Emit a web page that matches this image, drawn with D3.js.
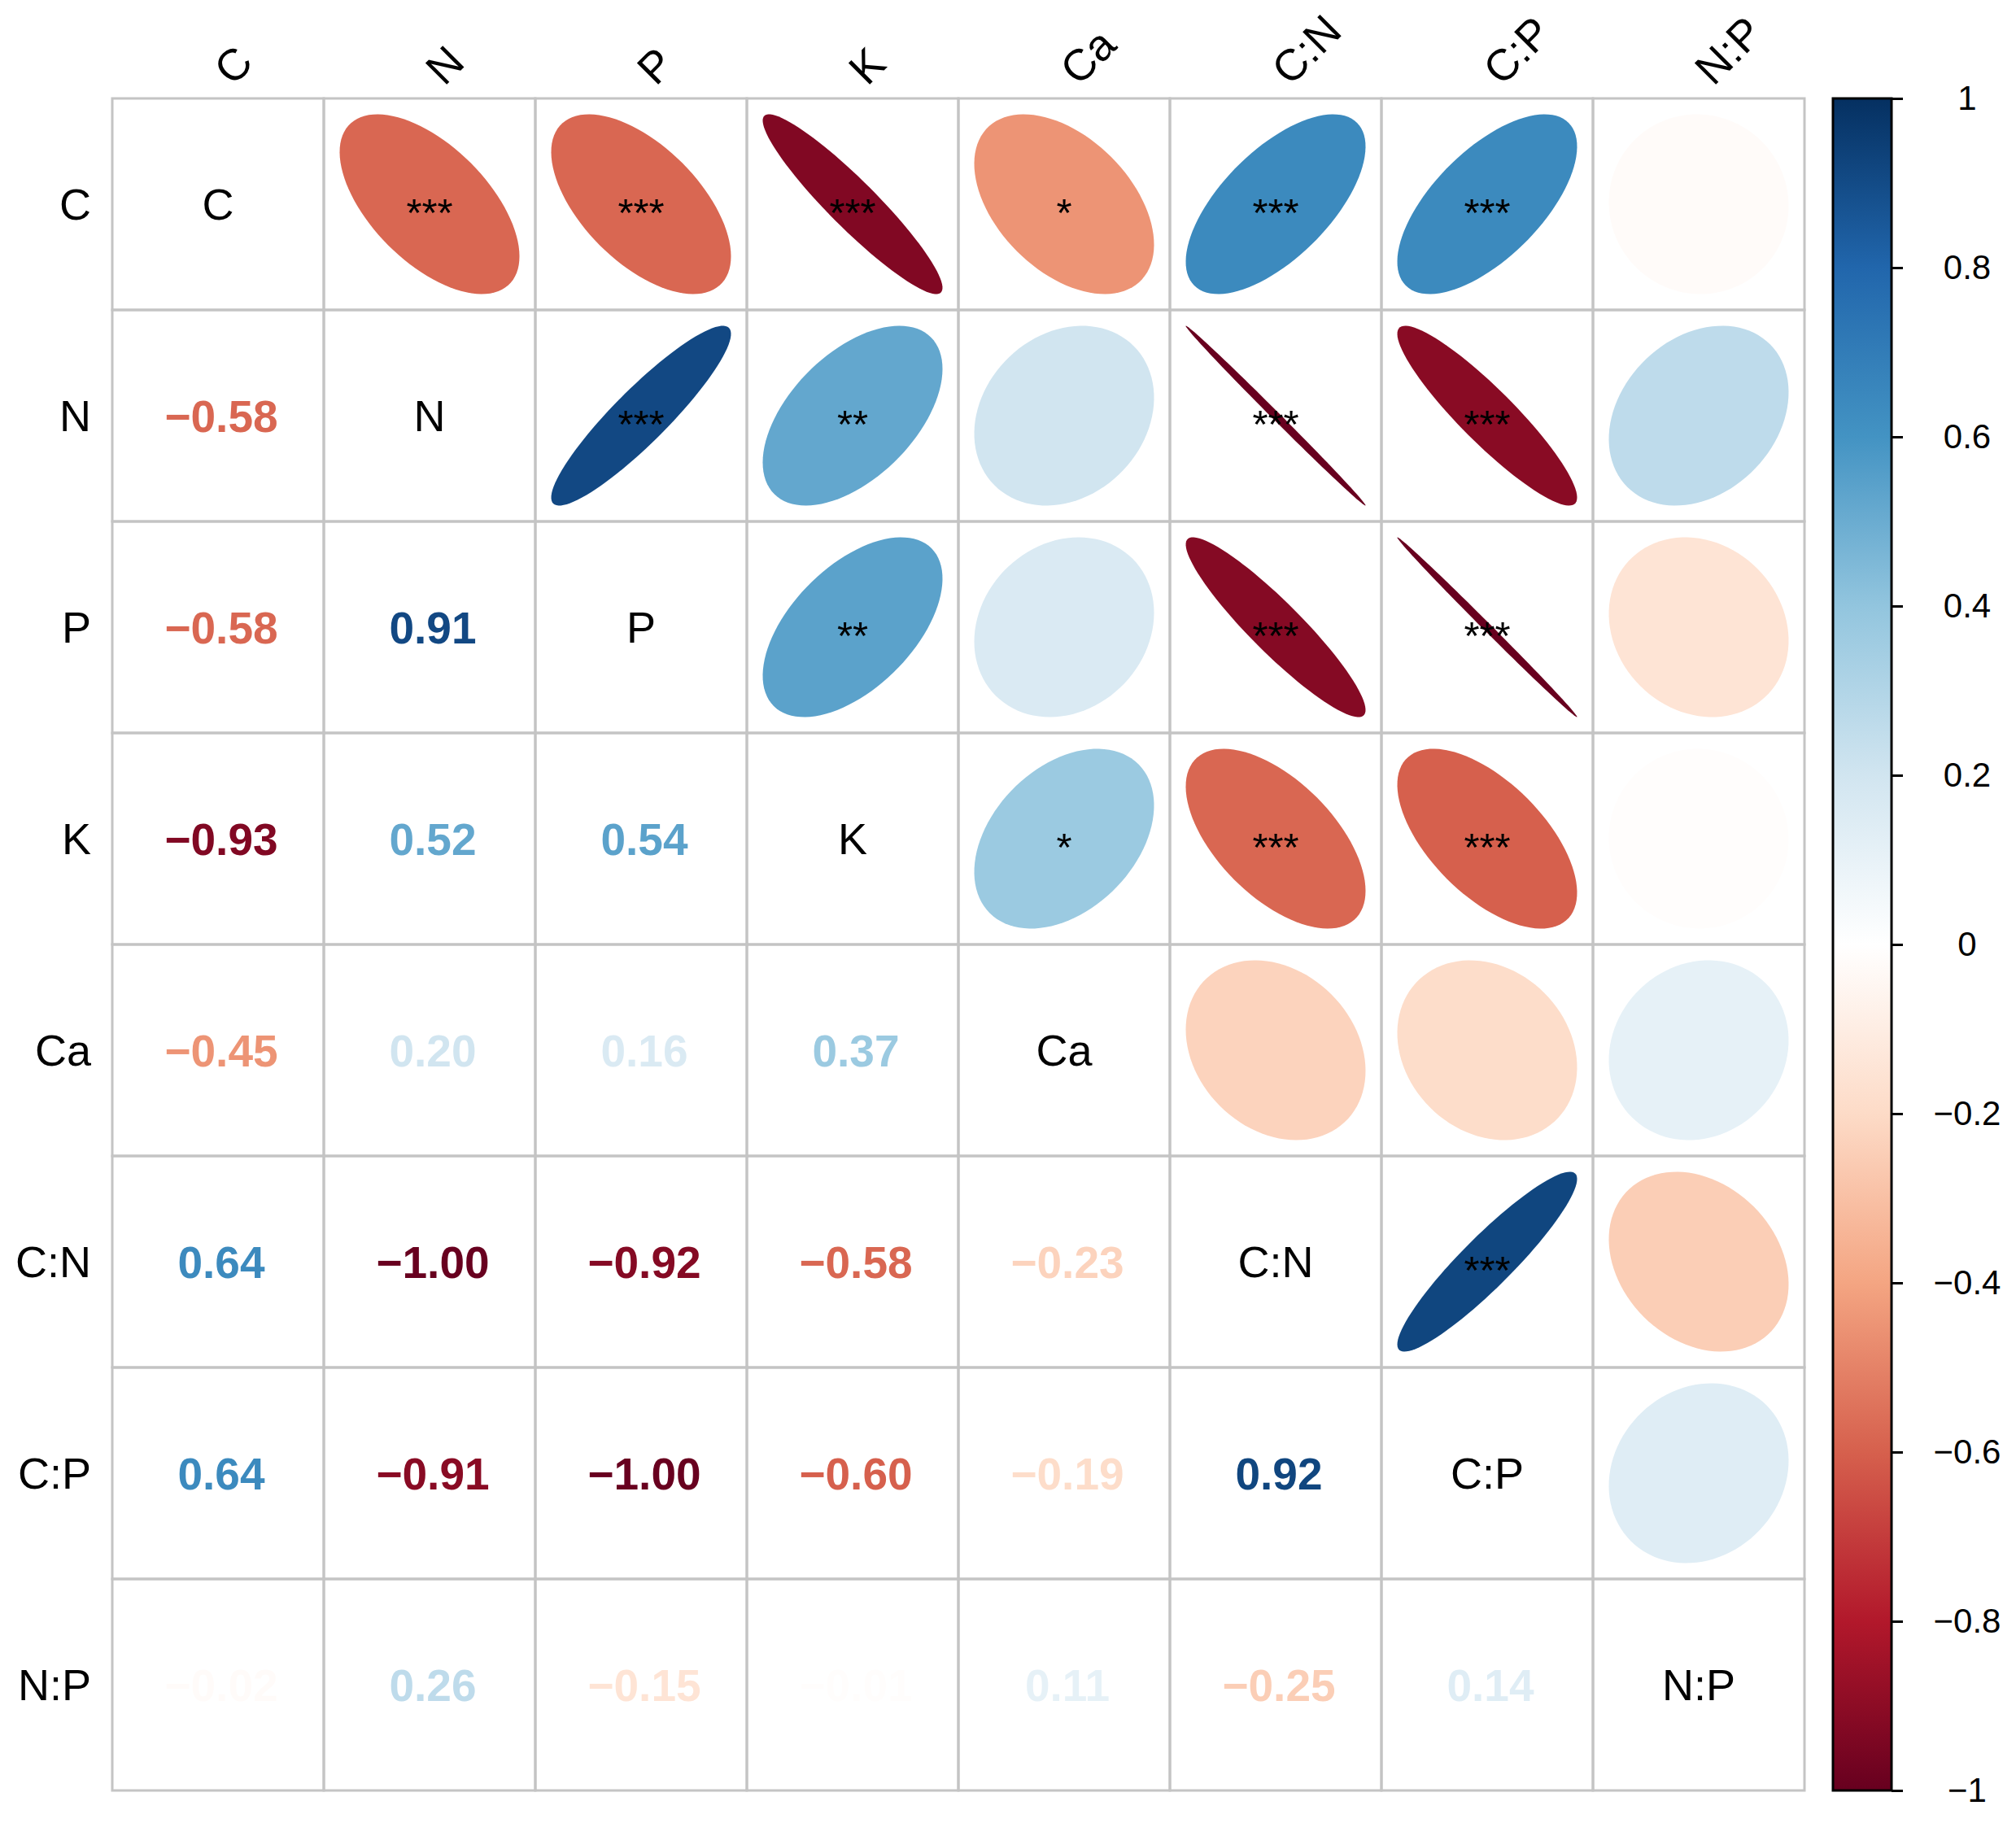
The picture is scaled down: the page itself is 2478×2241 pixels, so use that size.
<!DOCTYPE html>
<html>
<head>
<meta charset="utf-8">
<script src="https://cdn.jsdelivr.net/npm/d3@7"></script>
<style>
  body { margin: 0; background: #fff; }
  text { font-family: "Liberation Sans", Arial, Helvetica, sans-serif; }
</style>
</head>
<body>
<svg id="chart"></svg>
<script>
var width = 2478;
var height = 2241;

var vars = ["C", "N", "P", "K", "Ca", "C:N", "C:P", "N:P"];

// lower triangle of the correlation matrix, row i against columns 0..i-1
var lowerRows = [
  [],
  [-0.58],
  [-0.58, 0.91],
  [-0.93, 0.52, 0.54],
  [-0.45, 0.20, 0.16, 0.37],
  [0.64, -0.998, -0.92, -0.58, -0.23],
  [0.64, -0.91, -0.998, -0.60, -0.19, 0.92],
  [-0.02, 0.26, -0.15, -0.01, 0.11, -0.25, 0.14]
];

// significance marks, same layout as lowerRows
var starRows = [
  [],
  ["***"],
  ["***", "***"],
  ["***", "**", "**"],
  ["*", "", "", "*"],
  ["***", "***", "***", "***", ""],
  ["***", "***", "***", "***", "", "***"],
  ["", "", "", "", "", "", ""]
];

var paletteStops = ["#67001F", "#B2182B", "#D6604D", "#F4A582", "#FDDBC7", "#FFFFFF",
                    "#D1E5F0", "#92C5DE", "#4393C3", "#2166AC", "#053061"];
var legendTicks = [-1, -0.8, -0.6, -0.4, -0.2, 0, 0.2, 0.4, 0.6, 0.8, 1];
var legendLabels = ["\u22121", "\u22120.8", "\u22120.6", "\u22120.4", "\u22120.2", "0",
                    "0.2", "0.4", "0.6", "0.8", "1"];

var gridLeft = 138, gridTop = 121, cell = 260;
var n = vars.length;

var svg = d3.select("#chart")
  .attr("width", width)
  .attr("height", height);

var x = d3.scaleBand().domain(vars).range([gridLeft, gridLeft + n * cell]);
var y = d3.scaleBand().domain(vars).range([gridTop, gridTop + n * cell]);

var color = d3.scaleLinear()
  .domain(d3.range(paletteStops.length).map(function(i) { return -1 + i * 2 / (paletteStops.length - 1); }))
  .range(paletteStops)
  .interpolate(d3.interpolateRgb);

function fmt(v) {
  return v.toFixed(2).replace("-", "\u2212");
}

// flatten into cells
var pairs = [];
lowerRows.forEach(function(row, i) {
  row.forEach(function(v, j) {
    pairs.push({ row: vars[i], col: vars[j], value: v, stars: starRows[i][j] });
  });
});

// grid
var grid = svg.append("g");
vars.forEach(function(r) {
  vars.forEach(function(c) {
    grid.append("rect")
      .attr("x", x(c))
      .attr("y", y(r))
      .attr("width", x.bandwidth())
      .attr("height", y.bandwidth())
      .attr("fill", "none")
      .attr("stroke", "#c4c4c4")
      .attr("stroke-width", 3);
  });
});

// upper triangle: ellipses
var ellPts = d3.range(99).map(function(k) { return k * 2 * Math.PI / 98; });
function ellipsePath(d) {
  var cx = x(d.row) + x.bandwidth() / 2;
  var cy = y(d.col) + y.bandwidth() / 2;
  var a = Math.acos(d.value);
  var s = 0.85 * cell / 2;
  return d3.line()(ellPts.map(function(t) {
    return [cx + s * Math.cos(t + a / 2), cy - s * Math.cos(t - a / 2)];
  })) + "Z";
}

svg.append("g").selectAll("path")
  .data(pairs)
  .enter()
  .append("path")
  .attr("d", ellipsePath)
  .attr("fill", function(d) { return color(d.value); });

svg.append("g").selectAll("text")
  .data(pairs.filter(function(d) { return d.stars; }))
  .enter()
  .append("text")
  .attr("x", function(d) { return x(d.row) + x.bandwidth() / 2; })
  .attr("y", function(d) { return y(d.col) + y.bandwidth() / 2 + 27; })
  .attr("text-anchor", "middle")
  .attr("font-size", "49px")
  .attr("fill", "#000")
  .text(function(d) { return d.stars; });

// lower triangle: numbers
svg.append("g").selectAll("text")
  .data(pairs)
  .enter()
  .append("text")
  .attr("x", function(d) { return x(d.col) + x.bandwidth() / 2 + 4; })
  .attr("y", function(d) { return y(d.row) + y.bandwidth() / 2 + 20; })
  .attr("text-anchor", "middle")
  .attr("font-size", "55px")
  .attr("font-weight", "bold")
  .attr("fill", function(d) { return color(d.value); })
  .text(function(d) { return fmt(d.value); });

// diagonal labels
svg.append("g").selectAll("text")
  .data(vars)
  .enter()
  .append("text")
  .attr("x", function(d) { return x(d) + x.bandwidth() / 2; })
  .attr("y", function(d) { return y(d) + y.bandwidth() / 2 + 19; })
  .attr("text-anchor", "middle")
  .attr("font-size", "54px")
  .attr("fill", "#000")
  .text(function(d) { return d; });

// row labels
svg.append("g").selectAll("text")
  .data(vars)
  .enter()
  .append("text")
  .attr("x", gridLeft - 26)
  .attr("y", function(d) { return y(d) + y.bandwidth() / 2 + 19; })
  .attr("text-anchor", "end")
  .attr("font-size", "54px")
  .attr("fill", "#000")
  .text(function(d) { return d; });

// column labels, rotated
svg.append("g").selectAll("text")
  .data(vars)
  .enter()
  .append("text")
  .attr("transform", function(d) {
    return "translate(" + (x(d) + x.bandwidth() / 2 + 18) + "," + (gridTop - 14) + ") rotate(-45)";
  })
  .attr("text-anchor", "start")
  .attr("font-size", "54px")
  .attr("fill", "#000")
  .text(function(d) { return d; });

// colour legend
var barLeft = 2253, barWidth = 72;
var ly = d3.scaleLinear().domain([-1, 1]).range([gridTop + n * cell, gridTop]);

var grad = svg.append("defs").append("linearGradient")
  .attr("id", "legendGrad")
  .attr("x1", 0).attr("y1", 1).attr("x2", 0).attr("y2", 0);
grad.selectAll("stop")
  .data(color.domain())
  .enter()
  .append("stop")
  .attr("offset", function(d) { return (d + 1) / 2; })
  .attr("stop-color", function(d) { return color(d); });

svg.append("rect")
  .attr("x", barLeft)
  .attr("y", ly(1))
  .attr("width", barWidth)
  .attr("height", ly(-1) - ly(1))
  .attr("fill", "url(#legendGrad)")
  .attr("stroke", "#000")
  .attr("stroke-width", 3);

var axis = svg.append("g")
  .attr("transform", "translate(" + (barLeft + barWidth) + ",0)")
  .call(d3.axisRight(ly)
    .tickValues(legendTicks)
    .tickSize(14)
    .tickFormat(function(d, i) { return legendLabels[i]; }));

axis.select(".domain").remove();
axis.selectAll(".tick line").attr("stroke", "#000").attr("stroke-width", 3);
axis.selectAll(".tick text")
  .attr("x", 2418 - barLeft - barWidth)
  .attr("text-anchor", "middle")
  .attr("font-size", "42px")
  .attr("font-family", "\"Liberation Sans\", Arial, Helvetica, sans-serif")
  .attr("fill", "#000");
</script>
</body>
</html>
